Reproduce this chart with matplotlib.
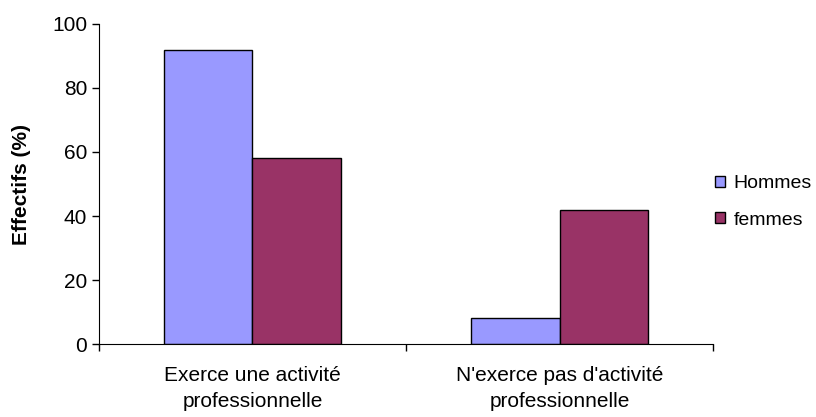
import numpy as np
import matplotlib.pyplot as plt

plt.rcParams['font.family'] = ['Liberation Sans', 'DejaVu Sans']

categories = ["Exerce une activité\nprofessionnelle", "N'exerce pas d'activité\nprofessionnelle"]
hommes = [92, 8]
femmes = [58, 42]

fig = plt.figure(figsize=(8.16, 4.17), dpi=100)
ax = fig.add_axes([0.1213, 0.175, 0.7525, 0.7675])

x = np.arange(len(categories))
w = 0.287
ax.bar(x - w / 2, hommes, w, color="#9999ff", edgecolor="black", linewidth=1, label="Hommes")
ax.bar(x + w / 2, femmes, w, color="#993366", edgecolor="black", linewidth=1, label="femmes")

ax.set_xlim(-0.5, 1.5)
ax.set_ylim(0, 100)
ax.set_yticks(range(0, 101, 20))
# separators between categories as major ticks, labels on minor ticks
ax.set_xticks([-0.5, 0.5, 1.5])
ax.set_xticklabels([])
ax.set_xticks(x, minor=True)
ax.set_xticklabels(categories, minor=True, fontsize=15)
ax.tick_params(axis="x", which="minor", length=0, pad=16)
ax.tick_params(axis="x", which="major", length=5, direction="out", width=1)
ax.tick_params(axis="y", length=5, direction="out", labelsize=15, width=1)
for lbl in ax.get_xticklabels(minor=True):
    lbl.set_linespacing(1.45)

ax.spines["top"].set_visible(False)
ax.spines["right"].set_visible(False)
ax.set_ylabel("Effectifs (%)", fontsize=15, fontweight="bold", labelpad=15)

ax.legend(loc="center left", bbox_to_anchor=(0.876, 0.5156), bbox_transform=fig.transFigure,
          frameon=False, fontsize=14, borderpad=0, borderaxespad=0,
          handlelength=0.5, handleheight=0.5, handletextpad=0.45, labelspacing=1.0)

fig.savefig("out.png", dpi=100)
